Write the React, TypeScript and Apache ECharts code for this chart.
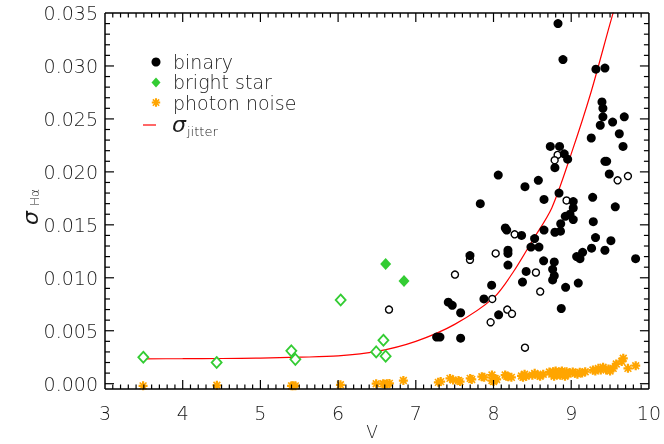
import React, { useEffect, useRef } from "react";
import * as echarts from "echarts";

// ---- data ----
const xTicks = [3, 4, 5, 6, 7, 8, 9, 10];
const yTicks = [0, 0.005, 0.01, 0.015, 0.02, 0.025, 0.03, 0.035];

const binaryFilled: number[][] = [
  [8.83, 0.034], [8.894, 0.0306], [9.318, 0.0297], [9.434, 0.0298], [9.396, 0.0266],
  [9.408, 0.026], [9.408, 0.0252], [9.374, 0.0244], [9.533, 0.0247], [9.683, 0.0252],
  [9.258, 0.0232], [9.619, 0.0236], [9.667, 0.0224], [8.731, 0.0224], [8.85, 0.0224],
  [8.91, 0.0217], [8.954, 0.0212], [8.79, 0.0204], [9.434, 0.021], [9.456, 0.021],
  [9.49, 0.0198], [8.061, 0.0197], [8.405, 0.0186], [8.577, 0.0192], [8.65, 0.0174],
  [8.843, 0.018], [7.83, 0.017], [9.276, 0.0176], [9.026, 0.0172], [9.026, 0.0166],
  [9.567, 0.0167], [8.984, 0.016], [8.924, 0.0158], [9.026, 0.0155], [9.284, 0.0153],
  [8.865, 0.0151], [8.79, 0.0143], [8.862, 0.0144], [8.65, 0.0145], [8.152, 0.0147],
  [8.17, 0.0145], [8.361, 0.014], [8.529, 0.0137], [8.482, 0.0129], [8.585, 0.0129],
  [8.186, 0.0126], [8.186, 0.0123], [7.697, 0.0121], [8.186, 0.0112], [8.645, 0.0116],
  [8.782, 0.0115], [8.761, 0.0108], [8.782, 0.0102], [8.761, 0.0098], [8.42, 0.0106],
  [8.373, 0.0096], [7.976, 0.0093], [8.928, 0.0091], [9.091, 0.0095], [9.07, 0.012],
  [9.113, 0.0118], [9.147, 0.0124], [9.262, 0.0128], [9.313, 0.0138], [9.434, 0.0126],
  [9.511, 0.0135], [9.829, 0.0118], [7.418, 0.0077], [7.469, 0.0074], [7.577, 0.0067],
  [7.877, 0.008], [8.066, 0.0065], [7.268, 0.0044], [7.311, 0.0044], [7.577, 0.0043],
  [8.872, 0.0071],
];

const binaryOpen: number[][] = [
  [8.825, 0.0216], [8.787, 0.0211], [8.94, 0.0173], [9.597, 0.0192], [9.73, 0.0196],
  [8.272, 0.0141], [8.028, 0.0123], [7.697, 0.0117], [7.504, 0.0103], [8.546, 0.0105],
  [8.601, 0.0087], [7.984, 0.008], [8.177, 0.007], [8.238, 0.0066], [7.963, 0.0058],
  [8.405, 0.0034], [6.655, 0.007],
];

const brightOpen: number[][] = [
  [3.493, 0.0025], [4.437, 0.002], [5.398, 0.0031], [5.45, 0.0023], [6.033, 0.0079],
  [6.49, 0.003], [6.583, 0.0041], [6.612, 0.0026],
];

const brightFilled: number[][] = [
  [6.612, 0.0113], [6.848, 0.0097],
];

const photonNoise: number[][] = [
  [3.49, -0.0002], [4.44, -0.00015], [5.4, -0.0002], [5.45, -0.0002], [5.42, -0.0002],
  [6.03, -0.0001], [6.49, 0.0], [6.58, 0.0], [6.63, 0.0], [6.66, 0.00003], [6.6, -0.00005],
  [6.84, 0.0003], [7.29, 0.00013], [7.32, 0.0002], [7.44, 0.0005], [7.48, 0.00035],
  [7.57, 0.0002], [7.55, 0.0003], [7.7, 0.0005], [7.72, 0.0004], [7.85, 0.00066], [7.88, 0.0006],
  [7.98, 0.00082], [7.98, 0.0003], [8.04, 0.0004], [8.0, 0.0002], [8.02, 0.0005], [8.15, 0.00082],
  [8.19, 0.00066], [8.23, 0.0006], [8.17, 0.0007], [8.36, 0.00073], [8.4, 0.00089],
  [8.38, 0.0006], [8.42, 0.0007], [8.53, 0.00098], [8.57, 0.00082], [8.64, 0.00089], [8.5, 0.0008],
  [8.6, 0.0007], [8.77, 0.00113], [8.81, 0.00098], [8.86, 0.00108], [8.9, 0.00089], [8.94, 0.00113],
  [8.98, 0.00104], [8.75, 0.0009], [8.8, 0.0012], [8.84, 0.0009], [8.88, 0.0012],
  [8.72, 0.0011], [8.92, 0.0007], [8.96, 0.0009], [8.78, 0.0007], [8.86, 0.0008],
  [9.05, 0.00098], [9.11, 0.00108], [9.18, 0.00113], [9.02, 0.0011], [9.08, 0.0009],
  [9.14, 0.001], [9.28, 0.00129], [9.35, 0.00145], [9.41, 0.00155], [9.48, 0.00139],
  [9.54, 0.00145], [9.31, 0.0012], [9.38, 0.0013], [9.45, 0.0013], [9.5, 0.0012], [9.58, 0.00186],
  [9.67, 0.0024], [9.65, 0.0021], [9.73, 0.00145], [9.83, 0.0017],
];

const jitterV = [3.5, 4.0, 4.5, 5.0, 5.5, 6.0, 6.5, 7.0, 7.5, 8.0, 8.25, 8.5, 8.75, 9.0, 9.25, 9.5, 9.57];
const jitterSigma = [0.00235, 0.00236, 0.00238, 0.00242, 0.0025, 0.00262, 0.00305, 0.004, 0.0056, 0.0081, 0.0105, 0.0135, 0.0166, 0.0217, 0.0274, 0.034, 0.0358];

const legendLabels = ["binary", "bright star", "photon noise"];

// ---- styling ----
const FONT = "DejaVu Sans";
const FW = 200;
const TXT = "#1a1a1a";
const GREEN = "#33CC33";
const ORANGE = "#FFA500";
const asteriskD =
  "M-1,-4L1,-4L1,4L-1,4Z M-4,-1L4,-1L4,1L-4,1Z M-3.5,-2.5L-2.5,-3.5L3.5,2.5L2.5,3.5Z M2.5,-3.5L3.5,-2.5L-2.5,3.5L-3.5,2.5Z";

echarts.graphic.registerShape("asterisk", echarts.graphic.extendPath(asteriskD, {}));

const GL = 105, GT = 13, GW = 544, GH = 370.7, FRAME_BOTTOM = 389;
const BOTTOM_OFFSET = FRAME_BOTTOM - (GT + GH);
const X_MIN = 3, X_MAX = 10, Y_MIN = 0, Y_MAX = 0.035;

function buildOption() {
  return {
    animation: false,
    grid: { left: GL, top: GT, width: GW, height: GH },
    xAxis: {
      type: "value",
      position: "bottom",
      min: X_MIN,
      max: X_MAX,
      interval: 1,
      offset: BOTTOM_OFFSET,
      axisLine: { show: false, onZero: false },
      axisTick: { show: false },
      minorTick: { show: false },
      splitLine: { show: false },
      axisLabel: {
        show: true,
        fontFamily: FONT,
        fontWeight: FW,
        fontSize: 19,
        color: TXT,
        margin: 14,
        formatter: (v: number) => (xTicks.includes(v) ? String(v) : ""),
      },
    },
    yAxis: {
      type: "value",
      position: "left",
      min: Y_MIN,
      max: Y_MAX,
      interval: 0.005,
      axisLine: { show: false, onZero: false },
      axisTick: { show: false },
      minorTick: { show: false },
      splitLine: { show: false },
      axisLabel: {
        show: true,
        fontFamily: FONT,
        fontWeight: FW,
        fontSize: 19,
        color: TXT,
        margin: 7,
        formatter: (v: number) => {
          const t = yTicks.find((y) => Math.abs(y - v) < 1e-9);
          return t === undefined ? "" : t.toFixed(3);
        },
      },
    },
    series: [
      {
        name: "photon noise",
        type: "scatter",
        clip: false,
        symbol: "path://" + asteriskD,
        symbolSize: 9,
        itemStyle: { color: ORANGE, opacity: 1 },
        data: photonNoise,
        z: 2,
      },
      {
        name: "jitter",
        type: "line",
        clip: true,
        smooth: 0.3,
        showSymbol: false,
        lineStyle: { color: "#ff0000", width: 1.2 },
        data: jitterV.map((v, i) => [v, jitterSigma[i]]),
        z: 3,
      },
      {
        name: "bright star open",
        type: "scatter",
        symbol: "diamond",
        symbolSize: [10, 11],
        itemStyle: { color: "#fff", borderColor: GREEN, borderWidth: 1.8, opacity: 1 },
        data: brightOpen,
        z: 4,
      },
      {
        name: "bright star",
        type: "scatter",
        symbol: "diamond",
        symbolSize: [11, 12],
        itemStyle: { color: GREEN, opacity: 1 },
        data: brightFilled,
        z: 4,
      },
      {
        name: "binary open",
        type: "scatter",
        symbol: "circle",
        symbolSize: 7,
        itemStyle: { color: "#fff", borderColor: "#000", borderWidth: 1.4, opacity: 1 },
        data: binaryOpen,
        z: 5,
      },
      {
        name: "binary",
        type: "scatter",
        symbol: "circle",
        symbolSize: 9,
        itemStyle: { color: "#000", opacity: 1 },
        data: binaryFilled,
        z: 5,
      },
    ],
  };
}

function legendGraphics(): any[] {
  return [
    { type: "circle", shape: { cx: 156, cy: 62, r: 4.5 }, style: { fill: "#000" } },
    { type: "polygon", shape: { points: [[156, 77.5], [160.5, 82.5], [156, 87.5], [151.5, 82.5]] }, style: { fill: GREEN } },
    { type: "asterisk", x: 156, y: 102.5, scaleX: 1.05, scaleY: 1.05, style: { fill: ORANGE } },
    { type: "line", shape: { x1: 143, y1: 125, x2: 156, y2: 125 }, style: { stroke: "#ff0000", lineWidth: 1.2 } },
    ...legendLabels.map((t, i) => ({
      type: "text",
      x: 173,
      y: 62 + i * 20.3,
      style: { text: t, fontFamily: FONT, fontWeight: FW, fontSize: 19, fill: TXT, verticalAlign: "middle", textAlign: "left" },
    })),
    { type: "text", x: 172, y: 124, style: { text: "σ", fontFamily: FONT, fontSize: 22, fontStyle: "italic", fill: TXT, verticalAlign: "middle" } },
    { type: "text", x: 187, y: 131, style: { text: "jitter", fontFamily: FONT, fontWeight: FW, fontSize: 13, fill: TXT, verticalAlign: "middle" } },
    { type: "text", x: 372, y: 432, style: { text: "V", fontFamily: FONT, fontWeight: FW, fontSize: 17, fill: TXT, textAlign: "center", verticalAlign: "middle" } },
    {
      type: "group",
      x: 30,
      y: 206,
      rotation: Math.PI / 2,
      children: [
        { type: "text", x: -12, y: 0, style: { text: "σ", fontFamily: FONT, fontSize: 22, fontStyle: "italic", fill: TXT, verticalAlign: "middle", textAlign: "center" } },
        { type: "text", x: 0, y: 5, style: { text: "Hα", fontFamily: FONT, fontWeight: FW, fontSize: 12, fill: TXT, verticalAlign: "middle", textAlign: "left" } },
      ],
    },
  ];
}

// frame with IDL-style inside ticks on all four sides, placed through the chart's own scales
function frameGraphics(chart: echarts.ECharts): any[] {
  const px = (x: number, y: number) => chart.convertToPixel({ gridIndex: 0 }, [x, y]) as number[];
  const [xL, y0] = px(X_MIN, Y_MIN);
  const [xR, yT] = px(X_MAX, Y_MAX);
  const yB = y0 + BOTTOM_OFFSET;
  const frameStyle = { stroke: "#000", lineWidth: 1.5 };
  const tickStyle = { stroke: "#000", lineWidth: 1.2 };
  const out: any[] = [];
  const seg = (x1: number, y1: number, x2: number, y2: number, s: any) =>
    out.push({ type: "line", silent: true, z: 50, shape: { x1, y1, x2, y2 }, style: s });
  seg(xL, yT, xR, yT, frameStyle);
  seg(xL, yB, xR, yB, frameStyle);
  seg(xL, yT, xL, yB, frameStyle);
  seg(xR, yT, xR, yB, frameStyle);
  const xStart = xTicks[0] * 10, xEnd = xTicks[xTicks.length - 1] * 10;
  for (let i = xStart + 1; i < xEnd; i++) {
    const x = px(i / 10, Y_MIN)[0];
    const len = i % 10 === 0 ? 9 : 4.5;
    seg(x, yB, x, yB - len, tickStyle);
    seg(x, yT, x, yT + len, tickStyle);
  }
  const nMinor = Math.round(Y_MAX * 1000);
  for (let j = 0; j < nMinor; j++) {
    const y = px(X_MIN, j / 1000)[1];
    const len = j % 5 === 0 ? 9 : 5;
    seg(xL, y, xL + len, y, tickStyle);
    seg(xR, y, xR - len, y, tickStyle);
  }
  return out;
}

export default function App() {
  const ref = useRef<HTMLDivElement>(null);
  useEffect(() => {
    if (!ref.current) return;
    const chart = echarts.init(ref.current, null, { renderer: "svg" });
    chart.setOption(buildOption() as any);
    chart.setOption({ graphic: [...legendGraphics(), ...frameGraphics(chart)] } as any);
    return () => chart.dispose();
  }, []);
  return <div ref={ref} style={{ position: "fixed", left: 0, top: 0, width: 664, height: 444 }} />;
}
